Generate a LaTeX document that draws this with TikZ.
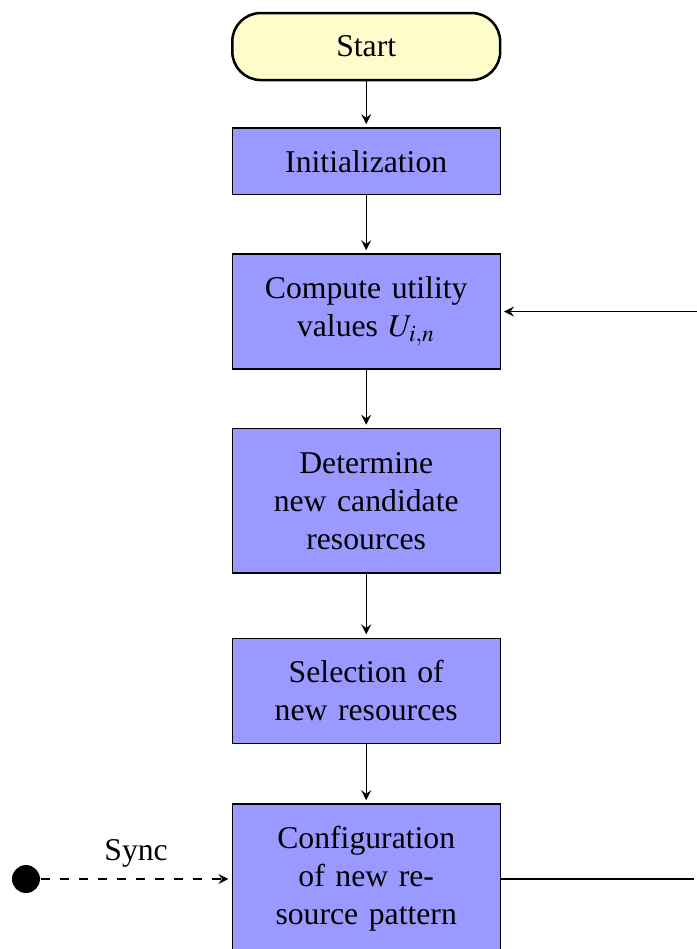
\documentclass[tikz,border=0pt]{standalone}
\usepackage{mathptmx}
\usepackage[no-math]{fontspec}
\setmainfont{Liberation Serif}
\usetikzlibrary{positioning,shapes}

\begin{document}
\begin{tikzpicture}[%
        ->,
        >=stealth,
        shorten >=1pt,
        node distance=0.645cm,
        stepblock/.style={%
          rectangle,
          draw,
          fill=blue!40,
          text width=2.5cm,
          align=center,
          inner xsep=6.7pt,
          inner ysep=7.0pt
        },
        startblock/.style={%
          rectangle,
          rounded corners=9pt,
          draw,
          thick,
          fill=yellow!20,
          minimum width=2.97cm,
          minimum height=0.743cm
        }
      ]
      \useasboundingbox (0,0) rectangle (7.727,-10.521);
      \coordinate (rim) at (7.727,0);
      \node[startblock] (start) at (4.06,-0.516) {Start};
      \node[stepblock] (init) [below=0.51cm of start] {Initialization};
      \node[stepblock,minimum height=1.275cm] (compute) [below=of init] {Compute utility\\values $U_{i,n}$};
      \node[stepblock,minimum height=1.6cm] (determine) [below=of compute] {Determine\\new candidate\\resources};
      \node[stepblock] (select) [below=0.71cm of determine] {Selection of\\new resources};
      \node[stepblock,minimum height=1.63cm] (config) [below=0.66cm of select] {Configuration\\of new re-\\source pattern};
      \node[circle,fill,inner sep=0pt,minimum size=0.31cm] (sync) at (0.288,-9.745) {};

      \path (start) edge node {} (init)
      (init) edge node {} (compute)
      (compute) edge node {} (determine)
      (determine) edge node {} (select)
      (select) edge node {} (config);
      \draw[dashed] (sync) -- node[above=0pt] {Sync} (config.west |- sync);
      \draw[-] (config.east |- sync) -- (sync -| rim);
      \draw (compute.east -| rim) -- (compute.east);

  \end{tikzpicture}
\end{document}
